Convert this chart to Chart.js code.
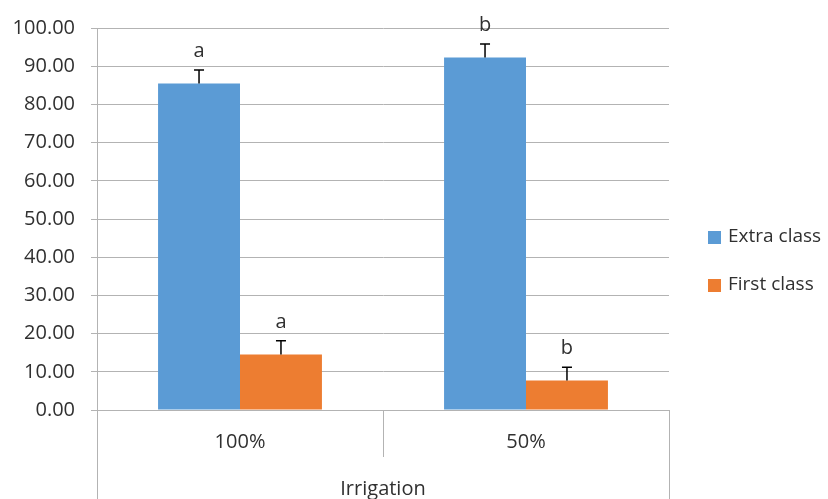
<!DOCTYPE html>
<html>
<head>
<meta charset="utf-8">
<script src="https://cdn.jsdelivr.net/npm/chart.js@4"></script>
<style>
  html, body { margin: 0; padding: 0; background: #fff; }
  #wrap { width: 828px; height: 499px; }
</style>
</head>
<body>
<div id="wrap"><canvas id="chart" width="828" height="499"></canvas></div>
<script>
const categories = ['100%', '50%'];
const seriesNames = ['Extra class', 'First class'];
const extraClass = [85.5, 92.3];
const firstClass = [14.5, 7.7];
const extraErr = [3.5, 3.5];
const firstErr = [3.6, 3.5];
const extraLetters = ['a', 'b'];
const firstLetters = ['a', 'b'];
const yTicks = [0, 10, 20, 30, 40, 50, 60, 70, 80, 90, 100];

const FONT = '"Open Sans", "Liberation Sans", sans-serif';
const TEXT = '#303030';
const GRID = '#b3b3b3';

// error bars and significance letters
const errorBars = {
  id: 'errorBars',
  afterDatasetsDraw(chart) {
    const ctx = chart.ctx;
    const y = chart.scales.y;
    chart.data.datasets.forEach((ds, di) => {
      const meta = chart.getDatasetMeta(di);
      meta.data.forEach((bar, i) => {
        const top = y.getPixelForValue(ds.data[i] + ds.errors[i]);
        ctx.save();
        ctx.strokeStyle = '#000';
        ctx.lineWidth = 1.5;
        ctx.beginPath();
        ctx.moveTo(bar.x, bar.y);
        ctx.lineTo(bar.x, top);
        ctx.moveTo(bar.x - 5, top);
        ctx.lineTo(bar.x + 5, top);
        ctx.stroke();
        ctx.fillStyle = TEXT;
        ctx.font = '20px ' + FONT;
        ctx.textAlign = 'center';
        ctx.textBaseline = 'alphabetic';
        ctx.fillText(ds.letters[i], bar.x, top - 13);
        ctx.restore();
      });
    });
  }
};

// category separators under the axis and the legend on the right
const frame = {
  id: 'frame',
  afterDraw(chart) {
    const ctx = chart.ctx;
    const a = chart.chartArea;
    const x = chart.scales.x;
    const mid = (x.getPixelForValue(0) + x.getPixelForValue(1)) / 2;
    ctx.save();
    ctx.strokeStyle = GRID;
    ctx.lineWidth = 1;
    ctx.beginPath();
    ctx.moveTo(Math.round(a.left) + 0.5, a.bottom);
    ctx.lineTo(Math.round(a.left) + 0.5, chart.height);
    ctx.moveTo(Math.round(a.right) + 0.5, a.bottom);
    ctx.lineTo(Math.round(a.right) + 0.5, chart.height);
    ctx.moveTo(Math.round(mid) + 0.5, a.bottom);
    ctx.lineTo(Math.round(mid) + 0.5, a.bottom + 47);
    ctx.stroke();

    const lx = a.right + 39;
    chart.data.datasets.forEach((ds, i) => {
      const cy = 237 + i * 48;
      ctx.fillStyle = ds.backgroundColor;
      ctx.fillRect(lx, cy - 6, 13, 13);
      ctx.fillStyle = TEXT;
      ctx.font = '19px ' + FONT;
      ctx.textAlign = 'left';
      ctx.textBaseline = 'middle';
      ctx.fillText(ds.label, lx + 20, cy);
    });
    ctx.restore();
  }
};

new Chart(document.getElementById('chart').getContext('2d'), {
  type: 'bar',
  data: {
    labels: categories,
    datasets: [
      { label: seriesNames[0], data: extraClass, errors: extraErr, letters: extraLetters,
        backgroundColor: '#5B9BD5', categoryPercentage: 0.573, barPercentage: 1.0 },
      { label: seriesNames[1], data: firstClass, errors: firstErr, letters: firstLetters,
        backgroundColor: '#ED7D31', categoryPercentage: 0.573, barPercentage: 1.0 }
    ]
  },
  options: {
    responsive: false,
    animation: false,
    layout: { padding: { top: 28, right: 159, left: 0, bottom: 0 } },
    plugins: { legend: { display: false }, tooltip: { enabled: false } },
    scales: {
      x: {
        afterFit(scale) { scale.height = 89; },
        grid: { display: false, drawTicks: false },
        border: { display: false },
        ticks: { color: TEXT, font: { family: FONT, size: 20 }, padding: 20 },
        title: { display: true, text: 'Irrigation', color: TEXT,
                 font: { family: FONT, size: 20 }, padding: { top: 22, bottom: -2 } }
      },
      y: {
        min: 0,
        max: 100,
        afterBuildTicks(scale) { scale.ticks = yTicks.map(v => ({ value: v })); },
        afterFit(scale) { scale.width = 97; },
        grid: { color: GRID, lineWidth: 1, tickLength: 6 },
        border: { display: true, color: GRID },
        ticks: { color: TEXT, font: { family: FONT, size: 20 }, padding: 16,
                 callback: v => v.toFixed(2) }
      }
    }
  },
  plugins: [errorBars, frame]
});
</script>
</body>
</html>
